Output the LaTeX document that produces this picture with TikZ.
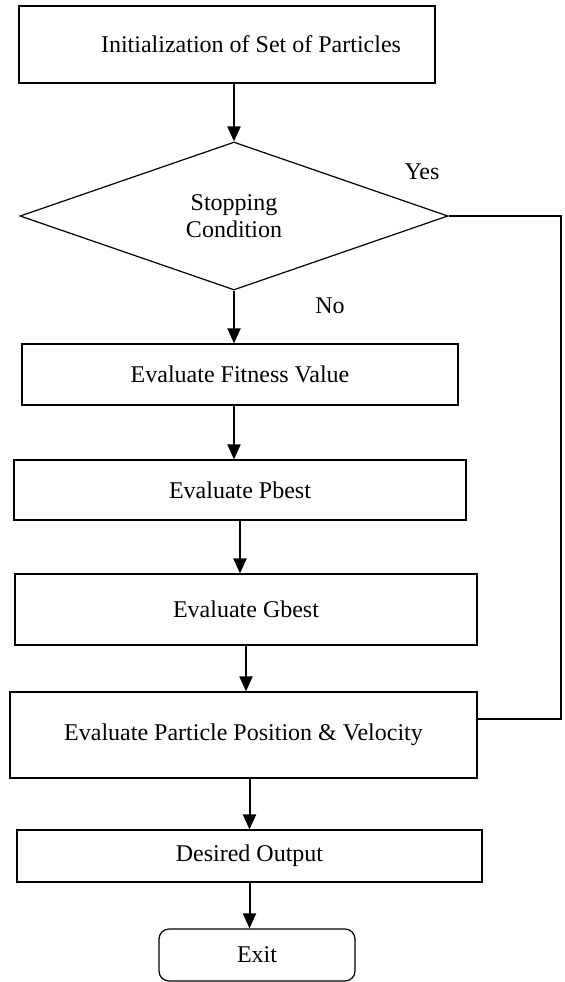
\documentclass[tikz,border=0pt]{standalone}
\usepackage{fontspec}
\setmainfont{Liberation Serif}
\usepackage{tikz}
\usetikzlibrary{arrows.meta,shapes}
\tikzset{
	box/.style={fill=white, draw=black, shape=rectangle, line width=0.6pt, inner sep=0pt},
	test/.style={fill=white, draw=black, shape=diamond, line width=0.6pt, inner sep=0pt, aspect=2.9, align=center},
	flow/.style={line width=1pt, -{Triangle[length=7.5pt, width=6.5pt]}},
	back/.style={line width=0.6pt}
}

\begin{document}
\begin{tikzpicture}[x=0.5pt, y=-0.5pt, every node/.style={font=\fontsize{12}{13.5}\selectfont}]
	\useasboundingbox (0, 0) rectangle (564, 982);
	\node [box, minimum width=208pt, minimum height=38.5pt] (init) at (227, 44.5) {\hspace*{24pt}Initialization of Set of Particles};
	\node [test, minimum width=214pt, minimum height=74pt] (stop) at (234, 216) {Stopping\\Condition};
	\node [box, minimum width=218pt, minimum height=30.5pt] (fitness) at (240, 374.5) {Evaluate Fitness Value};
	\node [box, minimum width=226pt, minimum height=30pt] (pbest) at (240, 490) {Evaluate Pbest};
	\node [box, minimum width=231pt, minimum height=35.5pt] (gbest) at (246, 609.5) {Evaluate Gbest};
	\node [box, minimum width=233.5pt, minimum height=43pt] (update) at (243.5, 735) {Evaluate Particle Position \& Velocity};
	\node [box, minimum width=232.5pt, minimum height=26pt] (output) at (249.5, 856) {Desired Output};
	\node [box, rounded corners=5pt, minimum width=98pt, minimum height=26pt] (exit) at (257, 955) {Exit};
	\node (yes) at (422, 172) {Yes};
	\node (no) at (330, 306) {No};
	\coordinate (corner) at (561, 719);
	\draw [flow] (init.south -| stop.north) to (stop.north);
	\draw [flow] (stop.south) to (stop.south |- fitness.north);
	\draw [flow] (stop.south |- fitness.south) to (stop.south |- pbest.north);
	\draw [flow] (pbest.south) to (pbest.south |- gbest.north);
	\draw [flow] (gbest.south) to (gbest.south |- update.north);
	\draw [flow] (output.north |- update.south) to (output.north);
	\draw [flow] (output.south) to (output.south |- exit.north);
	\draw [back] (stop.east) -- (stop.east -| corner) -- (corner) -- (corner -| update.east);
\end{tikzpicture}
\end{document}
